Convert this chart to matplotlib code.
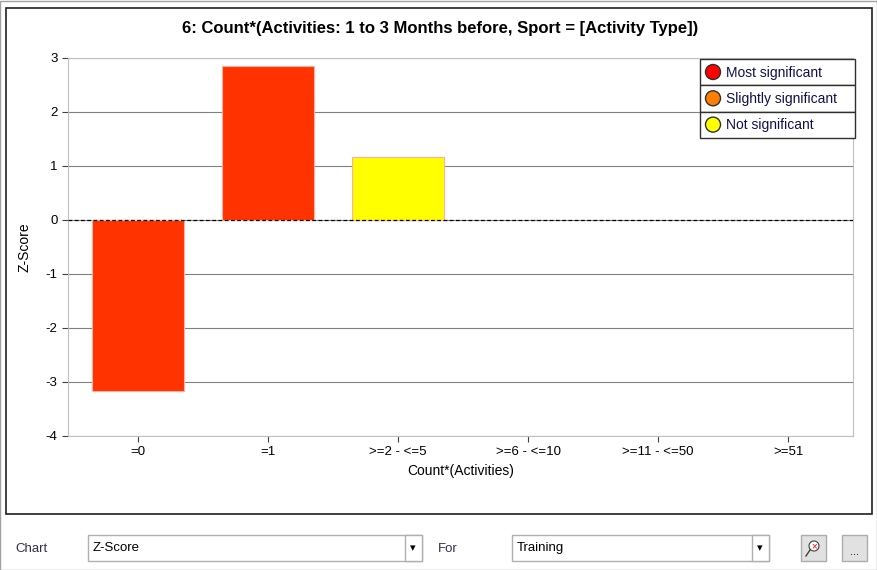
import matplotlib.pyplot as plt
from matplotlib.patches import Rectangle, Circle

categories = ['=0', '=1', '>=2 - <=5', '>=6 - <=10', '>=11 - <=50', '>=51']
zscores = [-3.17, 2.85, 1.17, 0, 0, 0]
bar_colors = ['#ff3300', '#ff3300', '#ffff00', '#ff3300', '#ff3300', '#ff3300']
legend_labels = ['Most significant', 'Slightly significant', 'Not significant']
legend_colors = ['#ff0000', '#ff7f00', '#ffff00']

W, H = 878, 570
plt.rcParams['font.family'] = ['Liberation Sans', 'DejaVu Sans']
plt.rcParams['axes.unicode_minus'] = False
fig = plt.figure(figsize=(W / 100, H / 100), dpi=100)


def box(x0, y0, x1, y1):
    # pixel box (top-left origin) -> figure fraction rect
    return [x0 / W, 1 - y1 / H, (x1 - x0) / W, (y1 - y0) / H]


# window frame and chart frame
bg = fig.add_axes([0, 0, 1, 1])
bg.set_xlim(0, W)
bg.set_ylim(H, 0)
bg.axis('off')
bg.add_patch(Rectangle((0.5, 0.5), W - 1, H - 1, fill=False, ec='#a0a0a0', lw=1))
bg.add_patch(Rectangle((6, 8), 866, 506, fill=False, ec='#202020', lw=1.2))

ax = fig.add_axes(box(68, 58, 853, 436))
x = list(range(len(categories)))
widths = [0.0 if v == 0 else 1.0 for v in zscores]
ax.bar(x, zscores, width=0.71, color=bar_colors, edgecolor='#ffb0a0',
       linewidth=[0.8 * w for w in widths], zorder=3)
ax.axhline(0, color='black', ls=(0, (3, 2)), lw=0.9, zorder=4)
ax.set_xlim(-0.54, -0.54 + 785 / 130)
ax.set_ylim(-4, 3)
ax.set_yticks(range(-4, 4))
ax.yaxis.grid(True, color='#808080', lw=0.8, zorder=0)
ax.set_xticks(x)
ax.set_xticklabels(categories)
ax.tick_params(labelsize=9.5, length=4, colors='#404040', labelcolor='black')
for s in ax.spines.values():
    s.set_color('#c0c0c0')
ax.set_xlabel('Count*(Activities)', fontsize=10)
ax.set_ylabel('Z-Score', fontsize=10, labelpad=10)
fig.text(440 / W, 1 - 29 / H, '6: Count*(Activities: 1 to 3 Months before, Sport = [Activity Type])',
         ha='center', va='center', fontsize=12, fontweight='bold')

# overlay for legend and controls
top = fig.add_axes([0, 0, 1, 1])
top.set_xlim(0, W)
top.set_ylim(H, 0)
top.axis('off')
top.patch.set_alpha(0)

for i, (lab, col) in enumerate(zip(legend_labels, legend_colors)):
    y0 = 59 + i * 26.3
    top.add_patch(Rectangle((700, y0), 155, 26.3, fc='white', ec='#303030', lw=1, zorder=5))
    top.add_patch(Circle((713, y0 + 13), 7.5, fc=col, ec='#303030', lw=1, zorder=6))
    top.text(726, y0 + 13.5, lab, va='center', fontsize=10, color='#101050', zorder=7)

# bottom controls
top.text(15, 549, 'Chart', va='center', fontsize=9.5, color='#303050')
top.add_patch(Rectangle((88, 535), 334, 26, fc='white', ec='#b0b0b0', lw=1))
top.add_patch(Rectangle((405, 535), 17, 26, fc='white', ec='#b0b0b0', lw=1))
top.text(413, 548, '▾', ha='center', va='center', fontsize=8)
top.text(93, 548, 'Z-Score', va='center', fontsize=9.5)
top.text(438, 549, 'For', va='center', fontsize=9.5, color='#303050')
top.add_patch(Rectangle((512, 535), 257, 26, fc='white', ec='#b0b0b0', lw=1))
top.add_patch(Rectangle((752, 535), 17, 26, fc='white', ec='#b0b0b0', lw=1))
top.text(760, 548, '▾', ha='center', va='center', fontsize=8)
top.text(517, 548, 'Training', va='center', fontsize=9.5)
top.add_patch(Rectangle((801, 535), 25, 26, fc='#e1e1e1', ec='#adadad', lw=1))
top.add_patch(Circle((814, 546), 5, fc='white', ec='#404040', lw=0.8))
top.text(814, 546, '×', ha='center', va='center', fontsize=7, color='red')
top.plot([810, 806], [550, 556], color='#404040', lw=1)
top.add_patch(Rectangle((842, 535), 25, 26, fc='#e1e1e1', ec='#adadad', lw=1))
top.text(854.5, 552, '...', ha='center', va='center', fontsize=8)

fig.savefig('out.png', dpi=100)
